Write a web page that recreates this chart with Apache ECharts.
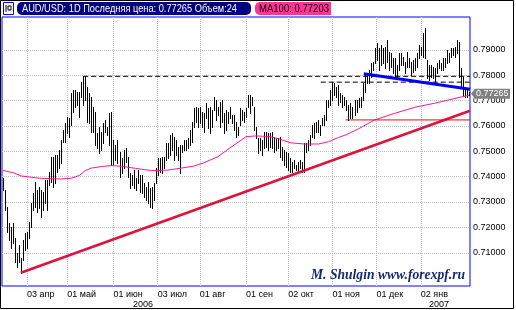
<!DOCTYPE html>
<html><head><meta charset="utf-8">
<script src="https://cdn.jsdelivr.net/npm/echarts@6/dist/echarts.min.js"></script>
<style>html,body{margin:0;padding:0;background:#fff}#c{width:516px;height:310px}</style>
</head><body><div id="c"></div>
<script>
// ---- data ----
const startDate = '2006-03-16';
const highs = [
0.7394,0.7346,0.7278,0.7216,0.7200,0.7216,0.7157,0.7098,0.7129,0.7078,
0.7149,0.7177,0.7180,0.7220,0.7295,0.7334,0.7377,0.7346,0.7358,0.7346,
0.7338,0.7385,0.7385,0.7417,0.7476,0.7476,0.7484,0.7484,0.7504,0.7544,
0.7583,0.7610,0.7634,0.7630,0.7729,0.7741,0.7741,0.7733,0.7733,0.7772,
0.7796,0.7796,0.7753,0.7729,0.7713,0.7674,0.7654,0.7571,0.7595,0.7575,
0.7610,0.7622,0.7595,0.7650,0.7654,0.7544,0.7524,0.7544,0.7496,
0.7472,0.7504,0.7512,0.7476,0.7413,0.7406,0.7425,0.7394,0.7425,0.7406,
0.7406,0.7374,0.7358,0.7377,0.7354,0.7358,0.7374,0.7433,0.7472,0.7472,
0.7476,0.7476,0.7532,0.7532,0.7563,0.7571,0.7555,0.7544,0.7516,0.7524,
0.7524,0.7544,0.7544,0.7551,0.7583,0.7614,0.7670,0.7674,0.7670,0.7674,
0.7654,0.7650,0.7690,0.7670,0.7674,0.7662,0.7713,0.7701,0.7674,0.7694,
0.7701,0.7650,0.7662,0.7654,0.7674,0.7642,0.7642,0.7614,0.7595,0.7670,
0.7662,0.7654,0.7670,0.7721,0.7721,0.7713,0.7674,0.7595,0.7551,0.7551,
0.7544,0.7575,0.7575,0.7571,0.7571,0.7575,0.7555,0.7551,0.7551,0.7555,
0.7516,0.7504,0.7496,0.7492,0.7472,0.7457,0.7465,0.7445,0.7457,0.7465,
0.7457,0.7532,0.7532,0.7544,0.7563,0.7602,0.7610,0.7614,0.7622,0.7602,
0.7630,0.7642,0.7701,0.7701,0.7741,0.7772,0.7768,0.7753,0.7760,0.7729,
0.7721,0.7713,0.7701,0.7682,0.7690,0.7674,0.7701,0.7701,0.7709,
0.7713,0.7768,0.7800,0.7800,0.7819,0.7847,0.7851,0.7906,0.7926,0.7906,
0.7918,0.7906,0.7910,0.7938,0.7891,0.7887,0.7867,0.7867,0.7839,0.7887,
0.7887,0.7871,0.7851,0.7891,0.7867,0.7851,0.7859,0.7867,0.7887,0.7918,
0.7910,0.7965,0.7985,0.7859,0.7839,0.7839,0.7831,0.7827,0.7847,0.7859,
0.7847,0.7867,0.7867,0.7899,0.7887,0.7906,0.7906,0.7910,0.7938,0.7930,
0.7827,0.7792,0.7753,0.7741,0.7733
];
const lows = [
0.7346,0.7267,0.7180,0.7149,0.7117,0.7137,0.7062,0.7042,0.7062,0.7020,
0.7070,0.7110,0.7117,0.7157,0.7200,0.7267,0.7278,0.7259,0.7275,0.7240,
0.7267,0.7295,0.7267,0.7366,0.7377,0.7358,0.7374,0.7417,0.7433,0.7453,
0.7536,0.7536,0.7571,0.7555,0.7602,0.7654,0.7674,0.7682,0.7634,0.7713,
0.7682,0.7701,0.7614,0.7610,0.7575,0.7575,0.7524,0.7512,0.7492,0.7504,
0.7532,0.7575,0.7563,0.7524,0.7445,0.7445,0.7465,0.7453,0.7398,
0.7413,0.7433,0.7457,0.7398,0.7354,0.7366,0.7354,0.7346,0.7374,0.7340,
0.7334,0.7318,0.7307,0.7295,0.7279,0.7275,0.7307,0.7374,0.7406,0.7417,
0.7413,0.7433,0.7465,0.7472,0.7484,0.7504,0.7465,0.7484,0.7465,0.7413,
0.7496,0.7504,0.7504,0.7512,0.7524,0.7536,0.7595,0.7614,0.7595,0.7610,
0.7595,0.7575,0.7630,0.7590,0.7571,0.7595,0.7662,0.7622,0.7642,0.7595,
0.7614,0.7571,0.7583,0.7610,0.7630,0.7610,0.7583,0.7555,0.7563,0.7602,
0.7622,0.7614,0.7634,0.7674,0.7650,0.7682,0.7583,0.7551,0.7492,0.7504,
0.7484,0.7512,0.7516,0.7504,0.7516,0.7512,0.7496,0.7504,0.7512,0.7476,
0.7465,0.7445,0.7437,0.7425,0.7417,0.7417,0.7433,0.7425,0.7417,0.7433,
0.7417,0.7417,0.7496,0.7504,0.7524,0.7555,0.7551,0.7575,0.7575,0.7563,
0.7602,0.7602,0.7622,0.7674,0.7682,0.7701,0.7721,0.7713,0.7682,0.7694,
0.7674,0.7682,0.7662,0.7622,0.7630,0.7630,0.7642,0.7654,0.7674,
0.7674,0.7701,0.7733,0.7768,0.7768,0.7792,0.7819,0.7847,0.7859,0.7819,
0.7839,0.7847,0.7827,0.7851,0.7819,0.7831,0.7808,0.7792,0.7788,0.7819,
0.7839,0.7839,0.7808,0.7831,0.7831,0.7800,0.7812,0.7819,0.7831,0.7867,
0.7879,0.7871,0.7867,0.7788,0.7780,0.7792,0.7788,0.7772,0.7808,0.7827,
0.7819,0.7819,0.7831,0.7847,0.7851,0.7871,0.7879,0.7871,0.7887,0.7792,
0.7749,0.7721,0.7713,0.7713,0.7721
];
const maIndex  = [0,5,9,18,29,34,38,41,44,49,54,59,66,74,82,88,95,100,107,112,118,121,126,133,138,143,150,157,162,167,171,177,185,195,205,215,225,232];
const maValues = [0.7424,0.7415,0.7402,0.7393,0.7390,0.7393,0.7404,0.7423,0.7433,0.7439,0.7443,0.7440,0.7432,0.7423,0.7425,0.7432,0.7441,0.7454,0.7478,0.7507,0.7540,0.7557,0.7560,0.7557,0.7547,0.7533,0.7528,0.7528,0.7537,0.7554,0.7565,0.7588,0.7623,0.7649,0.7673,0.7689,0.7708,0.77203];
const xTickDates  = ['2006-04-03','2006-05-01','2006-06-01','2006-07-03','2006-08-01','2006-09-01','2006-10-02','2006-11-01','2006-12-01','2007-01-02'];
const xTickLabels = ['03 апр','01 май','01 июн','03 июл','01 авг','01 сен','02 окт','01 ноя','01 дек','02 янв'];
const yearLabels  = ['2006','2007'];
const yTicks = [0.71,0.72,0.73,0.74,0.75,0.76,0.77,0.78,0.79];
const lastPrice = 0.77265, maLast = 0.77203;
const supportLine = [[8.85,0.7020],[232.5,0.7659]];
const blueLine    = [[179.6,0.7805],[232.5,0.7744]];
const redLevel    = [[170.6,0.7623],[232.5,0.7623]];
const dashHigh    = [[39.9,0.7795],[232.5,0.7795]];
const dashLow     = [[158.2,0.7772],[232.5,0.7772]];
const yMin = 0.69679, yMax = 0.8029;

// ---- build ----
function weekdays(start, n){
  const out=[]; const d=new Date(start+'T00:00:00Z');
  while(out.length<n){const w=d.getUTCDay(); if(w!==0&&w!==6) out.push(d.toISOString().slice(0,10)); d.setUTCDate(d.getUTCDate()+1);}
  return out;
}
const dates = weekdays(startDate, highs.length);
const isTick = (idx, v) => xTickDates.indexOf(v) >= 0;
const SANS = "'Liberation Sans', Arial, sans-serif";
const SERIF = "'Liberation Serif', 'Times New Roman', serif";
const mctx = document.createElement('canvas').getContext('2d');
function fitScale(text, font, width){ mctx.font = font; return width / mctx.measureText(text).width; }

const chart = echarts.init(document.getElementById('c'), null, {renderer:'canvas'});
const lineSeries = (data, color, width, dash, z) => ({
  type:'line', xAxisIndex:1, yAxisIndex:0, data, symbol:'none', silent:true, z,
  lineStyle:{color, width, type: dash || 'solid'}, animation:false
});
chart.setOption({
  animation:false,
  backgroundColor:'#fff',
  grid:{left:2, right:46, top:17, bottom:24, show:true, borderColor:'#0000ff', borderWidth:1, backgroundColor:'transparent'},
  xAxis:[{
    type:'category', data:dates, boundaryGap:true,
    axisLine:{show:false}, axisTick:{show:false, alignWithLabel:true, interval:isTick},
    axisLabel:{interval:isTick, formatter:v=>xTickLabels[xTickDates.indexOf(v)], align:'left', fontSize:9, color:'#000', margin:4, fontFamily:SANS},
    splitLine:{show:true, interval:isTick, alignWithLabel:true, lineStyle:{color:'#c0c0c0', width:1, type:[1,1]}}
  },{
    type:'value', min:-0.5, max:highs.length-0.5, show:false
  }],
  yAxis:{
    type:'value', position:'right', min:yMin, max:yMax, splitNumber:10,
    axisLine:{show:false}, axisTick:{show:false}, splitLine:{show:false},
    axisLabel:{customValues:yTicks, formatter:v=>(v>0.705&&v<0.795)?v.toFixed(5):'', fontSize:9, color:'#000', margin:3, fontFamily:SANS}
  },
  series:[
    {type:'custom', xAxisIndex:1, yAxisIndex:0, z:1, silent:true, clip:true,
     data:yTicks.map(v=>[0, v]), encode:{x:0, y:1},
     renderItem:function(params, api){
       const cs = params.coordSys;
       const y = Math.round(api.coord([0, api.value(1)])[1]) + 0.5;
       return {type:'line', shape:{x1:cs.x, y1:y, x2:cs.x+cs.width, y2:y}, style:{stroke:'#c0c0c0', lineWidth:1, lineDash:[1,1]}};
     }},
    {type:'custom', xAxisIndex:0, yAxisIndex:0, z:3, silent:true, clip:true,
     data:highs.map((h,i)=>[i, lows[i], h]), encode:{x:0, y:[1,2]},
     renderItem:function(params, api){
       const i=api.value(0);
       const t=api.coord([i, api.value(2)]), b=api.coord([i, api.value(1)]);
       const x=Math.round(t[0])+0.5;
       return {type:'line', shape:{x1:x, y1:Math.round(t[1]), x2:x, y2:Math.round(b[1])+1}, style:{stroke:'#000', lineWidth:1}};
     }},
    lineSeries(maIndex.map((i,k)=>[i, maValues[k]]), '#ff1493', 1, null, 4),
    lineSeries(supportLine, '#dc143c', 2.5, null, 5),
    lineSeries(redLevel, '#ff0000', 1, null, 5),
    lineSeries(dashHigh, '#000', 1, [5,3], 5),
    lineSeries(dashLow, '#000', 1, [5,3], 5),
    lineSeries(blueLine, '#0000ff', 3, null, 6)
  ]
});

const py = chart.convertToPixel({yAxisIndex:0}, lastPrice);
const headText = 'AUD/USD: 1D Последняя цена: '+lastPrice.toFixed(5)+' Объем:24';
const maText = 'MA100: '+maLast.toFixed(5);
const markText = 'M. Shulgin www.forexpf.ru';
const hf = '11px '+SANS, mf = "italic bold 14px "+SERIF;
chart.setOption({graphic:[
  {type:'rect', shape:{x:0.5, y:0.5, width:513, height:308}, style:{fill:'none', stroke:'#000', lineWidth:1}, z:100, silent:true},
  {type:'rect', shape:{x:3.5, y:2.5, width:10, height:12}, style:{fill:'#fff', stroke:'#0000ff', lineWidth:1}, z:100},
  {type:'polyline', shape:{points:[[6,5],[6,12]]}, style:{stroke:'#000', lineWidth:1}, z:101},
  {type:'polyline', shape:{points:[[8,6],[8,10],[11,10],[11,6],[8,6]]}, style:{stroke:'#000', fill:'none', lineWidth:1}, z:101},
  {type:'rect', shape:{x:17, y:2, width:234, height:13, r:5}, style:{fill:'#000080'}, z:100},
  {type:'text', x:22, y:8.5, scaleX:fitScale(headText, hf, 215), style:{text:headText, fill:'#fff', font:hf, verticalAlign:'middle'}, z:101},
  {type:'rect', shape:{x:255, y:2, width:76, height:13, r:[5,0,0,5]}, style:{fill:'#ff3399'}, z:100},
  {type:'text', x:259, y:8.5, scaleX:fitScale(maText, hf, 70), style:{text:maText, fill:'#000', font:hf, verticalAlign:'middle'}, z:101},
  {type:'text', x:311, y:275, scaleX:fitScale(markText, mf, 154), style:{text:markText, fill:'#142a6e', font:mf, verticalAlign:'middle'}, z:100},
  {type:'text', x:133, y:305, style:{text:yearLabels[0], fill:'#000', font:'9px '+SANS, verticalAlign:'middle'}, z:100},
  {type:'text', x:429, y:305, style:{text:yearLabels[1], fill:'#000', font:'9px '+SANS, verticalAlign:'middle'}, z:100},
  {type:'polygon', shape:{points:[[471,py],[475,py-5],[510,py-5],[510,py+5],[475,py+5]]}, style:{fill:'#808080'}, z:100},
  {type:'text', x:476, y:py, style:{text:lastPrice.toFixed(5), fill:'#fff', font:'9px '+SANS, verticalAlign:'middle'}, z:101}
]});
</script></body></html>
